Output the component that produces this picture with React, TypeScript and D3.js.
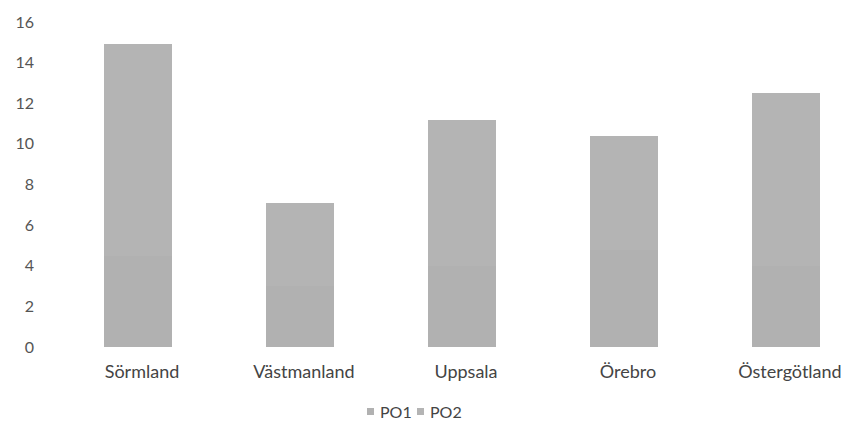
import React from "react";
import * as d3 from "d3";

const categories = ["Sörmland", "Västmanland", "Uppsala", "Örebro", "Östergötland"];
const po1 = [4.5, 3.0, 4.0, 4.8, 4.0];
const po2 = [10.4, 4.1, 7.2, 5.6, 8.5];
const seriesNames = ["PO1", "PO2"];
const yTicks = [0, 2, 4, 6, 8, 10, 12, 14, 16];

const W = 848;
const H = 428;
const colors = ["#b1b1b1", "#b4b4b4"];
const font = "Lato, 'Open Sans', sans-serif";

export default function App() {
  const x = d3
    .scaleBand<string>()
    .domain(categories)
    .range([57, 867])
    .paddingInner(0.58)
    .paddingOuter(0.29);
  const y = d3.scaleLinear().domain([0, 16]).range([347, 22]);

  const rows = categories.map((c, i) => ({ cat: c, PO1: po1[i], PO2: po2[i] }));
  const stack = d3.stack<any>().keys(seriesNames)(rows);

  return (
    <svg
      width={W}
      height={H}
      style={{ position: "absolute", left: 0, top: 0, background: "#fff" }}
    >
      <rect x={0} y={0} width={W} height={H} fill="#fff" />
      {yTicks.map((t) => (
        <text
          key={t}
          x={34}
          y={y(t)}
          dy="0.35em"
          textAnchor="end"
          fontFamily={font}
          fontSize={16}
          fill="#555"
        >
          {t}
        </text>
      ))}
      {stack.map((layer, si) =>
        layer.map((d, i) => (
          <rect
            key={`${si}-${i}`}
            x={x(categories[i])!}
            y={y(d[1])}
            width={x.bandwidth()}
            height={y(d[0]) - y(d[1])}
            fill={colors[si]}
            shapeRendering="crispEdges"
          />
        ))
      )}
      {categories.map((c) => (
        <text
          key={c}
          x={x(c)! + x.bandwidth() / 2 + 4}
          y={372}
          dy="0.35em"
          textAnchor="middle"
          fontFamily={font}
          fontSize={18}
          fill="#444"
        >
          {c}
        </text>
      ))}
      {seriesNames.map((s, i) => {
        const lx = 367 + i * 50;
        return (
          <g key={s}>
            <rect x={lx} y={408} width={7} height={7} fill={colors[i]} />
            <text
              x={lx + 13}
              y={412}
              dy="0.35em"
              fontFamily={font}
              fontSize={16}
              fill="#444"
            >
              {s}
            </text>
          </g>
        );
      })}
    </svg>
  );
}
